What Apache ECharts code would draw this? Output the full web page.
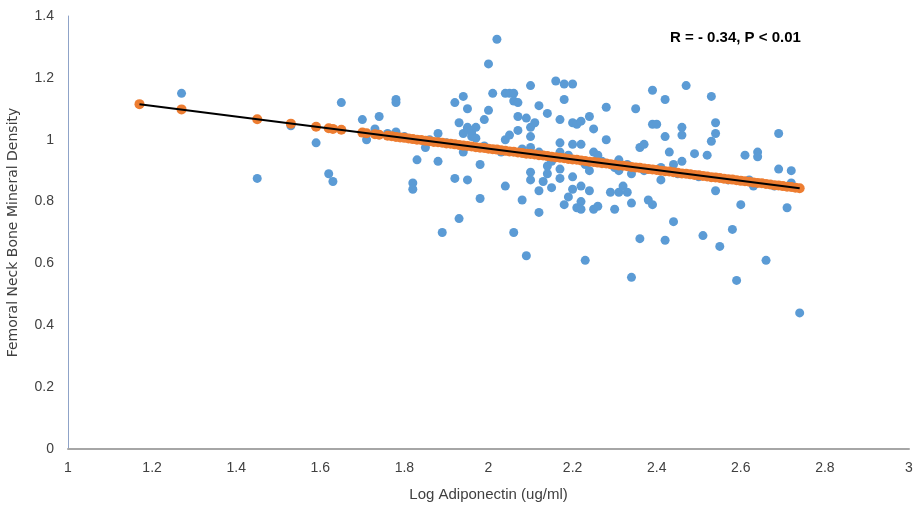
<!DOCTYPE html>
<html>
<head>
<meta charset="utf-8">
<script src="https://cdn.jsdelivr.net/npm/echarts@6/dist/echarts.min.js"></script>
<style>
  html, body { margin: 0; padding: 0; background: #fff; }
  #scatter-chart { width: 914px; height: 505px; }
</style>
</head>
<body>
<div id="scatter-chart"></div>
<script>
// observed values: [log adiponectin, femoral neck BMD]
const observed = [
  [1.27, 1.15], [1.45, 0.875], [1.53, 1.045], [1.59, 0.99], [1.62, 0.89], [1.63, 0.865],
  [1.65, 1.12], [1.70, 1.065], [1.71, 1.0], [1.73, 1.035], [1.74, 1.075], [1.76, 1.02],
  [1.78, 1.13], [1.78, 1.12], [1.78, 1.025], [1.80, 1.01], [1.82, 0.86], [1.82, 0.84],
  [1.83, 0.935], [1.85, 0.975], [1.86, 1.0], [1.88, 1.02], [1.88, 0.93], [1.89, 0.70],
  [1.90, 0.99], [1.92, 1.12], [1.92, 0.875], [1.93, 1.055], [1.93, 0.745], [1.94, 1.14],
  [1.94, 0.96], [1.94, 1.02], [1.95, 1.10], [1.95, 1.035], [1.95, 0.87], [1.95, 1.04],
  [1.96, 1.03], [1.96, 1.01], [1.96, 1.02], [1.97, 1.005], [1.97, 1.04], [1.98, 0.92],
  [1.98, 0.81], [1.99, 1.065], [1.99, 0.98], [2.00, 1.095], [2.00, 1.245], [2.01, 1.15],
  [2.02, 1.325], [2.04, 1.15], [2.05, 1.15], [2.06, 1.15], [2.04, 1.0], [2.04, 0.85],
  [2.03, 0.96], [2.05, 1.015], [2.06, 1.125], [2.06, 0.70], [2.07, 1.12], [2.07, 1.075],
  [2.07, 1.03], [2.08, 0.805], [2.08, 0.97], [2.09, 1.07], [2.09, 0.625], [2.10, 1.175],
  [2.10, 1.04], [2.11, 1.055], [2.10, 1.01], [2.10, 0.975], [2.10, 0.895], [2.10, 0.87],
  [2.12, 1.11], [2.12, 0.835], [2.12, 0.765], [2.12, 0.96], [2.13, 0.865], [2.14, 1.085],
  [2.14, 0.915], [2.14, 0.89], [2.15, 0.845], [2.15, 0.93], [2.16, 1.19], [2.17, 1.065],
  [2.17, 0.99], [2.17, 0.96], [2.17, 0.905], [2.17, 0.875], [2.18, 1.18], [2.18, 1.13],
  [2.18, 0.79], [2.19, 0.815], [2.19, 0.95], [2.20, 1.18], [2.20, 1.055], [2.20, 0.985],
  [2.20, 0.88], [2.20, 0.84], [2.21, 1.05], [2.21, 0.78], [2.22, 1.06], [2.22, 0.985],
  [2.22, 0.80], [2.22, 0.775], [2.22, 0.85], [2.23, 0.61], [2.23, 0.92], [2.24, 1.075],
  [2.24, 0.90], [2.24, 0.835], [2.25, 1.035], [2.25, 0.96], [2.25, 0.775], [2.26, 0.95],
  [2.26, 0.785], [2.27, 0.93], [2.28, 1.105], [2.28, 1.0], [2.29, 0.83], [2.30, 0.775],
  [2.30, 0.91], [2.31, 0.935], [2.31, 0.90], [2.31, 0.83], [2.32, 0.85], [2.33, 0.83],
  [2.33, 0.92], [2.34, 0.89], [2.34, 0.795], [2.34, 0.555], [2.35, 1.10], [2.36, 0.975],
  [2.36, 0.68], [2.37, 0.985], [2.37, 0.90], [2.38, 0.805], [2.39, 1.16], [2.39, 1.05],
  [2.39, 0.79], [2.40, 1.05], [2.41, 0.87], [2.41, 0.91], [2.42, 1.13], [2.42, 1.01],
  [2.42, 0.675], [2.43, 0.96], [2.44, 0.92], [2.44, 0.735], [2.45, 0.89], [2.46, 1.04],
  [2.46, 1.015], [2.46, 0.93], [2.47, 1.175], [2.49, 0.955], [2.50, 0.88], [2.51, 0.69],
  [2.52, 0.95], [2.53, 1.14], [2.53, 0.995], [2.54, 1.055], [2.54, 1.02], [2.54, 0.835],
  [2.55, 0.655], [2.57, 0.87], [2.58, 0.71], [2.59, 0.545], [2.60, 0.79], [2.61, 0.95],
  [2.62, 0.87], [2.63, 0.85], [2.64, 0.96], [2.64, 0.945], [2.66, 0.61], [2.68, 0.85],
  [2.69, 1.02], [2.69, 0.905], [2.71, 0.78], [2.72, 0.90], [2.72, 0.86], [2.74, 0.44]
]

// predicted values on the regression line
const fitX = [
  1.17, 1.27, 1.45, 1.53, 1.59, 1.62, 1.63, 1.65, 1.70, 1.71, 1.73, 1.74, 1.76, 1.77, 1.78,
  1.79, 1.80, 1.81, 1.82, 1.83, 1.84, 1.85, 1.86, 1.87, 1.88, 1.89, 1.90, 1.91, 1.92, 1.93,
  1.94, 1.95, 1.96, 1.97, 1.98, 1.99, 2.00, 2.01, 2.02, 2.03, 2.04, 2.05, 2.06, 2.07, 2.08,
  2.09, 2.10, 2.11, 2.12, 2.13, 2.14, 2.15, 2.16, 2.17, 2.18, 2.19, 2.20, 2.21, 2.22, 2.23,
  2.24, 2.25, 2.26, 2.27, 2.28, 2.29, 2.30, 2.31, 2.32, 2.33, 2.34, 2.35, 2.36, 2.37, 2.38,
  2.39, 2.40, 2.41, 2.42, 2.43, 2.44, 2.45, 2.46, 2.47, 2.48, 2.49, 2.50, 2.51, 2.52, 2.53,
  2.54, 2.55, 2.56, 2.57, 2.58, 2.59, 2.60, 2.61, 2.62, 2.63, 2.64, 2.65, 2.66, 2.67, 2.68,
  2.69, 2.70, 2.71, 2.72, 2.73, 2.74
]
const fitY = [
  1.115, 1.098, 1.066, 1.052, 1.042, 1.037, 1.035, 1.032, 1.023, 1.021, 1.018, 1.016, 1.013, 1.011, 1.009,
  1.007, 1.006, 1.004, 1.002, 1.000, 0.999, 0.997, 0.995, 0.993, 0.992, 0.990, 0.988, 0.987, 0.985, 0.983,
  0.981, 0.980, 0.978, 0.976, 0.974, 0.973, 0.971, 0.969, 0.968, 0.966, 0.964, 0.962, 0.961, 0.959, 0.957,
  0.955, 0.954, 0.952, 0.950, 0.949, 0.947, 0.945, 0.943, 0.942, 0.940, 0.938, 0.936, 0.935, 0.933, 0.931,
  0.929, 0.928, 0.926, 0.924, 0.923, 0.921, 0.919, 0.917, 0.916, 0.914, 0.912, 0.910, 0.909, 0.907, 0.905,
  0.904, 0.902, 0.900, 0.898, 0.897, 0.895, 0.893, 0.891, 0.890, 0.888, 0.886, 0.885, 0.883, 0.881, 0.879,
  0.878, 0.876, 0.874, 0.872, 0.871, 0.869, 0.867, 0.866, 0.864, 0.862, 0.860, 0.859, 0.857, 0.855, 0.853,
  0.852, 0.850, 0.848, 0.847, 0.845, 0.843
]
const trendLine = [[1.17, 1.115], [2.74, 0.843]]

const statText = 'R = - 0.34, P < 0.01'
const xTitle = 'Log Adiponectin (ug/ml)'
const yTitle = 'Femoral Neck Bone Mineral Density'

const chartInstance = echarts.init(document.getElementById('scatter-chart'))

const labelFont = '"Liberation Sans Narrow", "Arial Narrow", "Liberation Sans", sans-serif'

chartInstance.setOption({
  animation: false,
  grid: {
    top: 16,
    left: 68,
    right: 5,
    bottom: 56,
    outerBoundsMode: 'none'
  },
  xAxis: {
    type: 'value',
    min: 1,
    max: 3,
    interval: 0.2,
    name: xTitle,
    nameLocation: 'middle',
    nameGap: 38,
    nameTextStyle: {
      fontFamily: labelFont,
      fontSize: 15,
      color: '#404040'
    },
    splitLine: { show: false },
    axisTick: { show: false },
    axisLine: {
      show: true,
      lineStyle: { color: '#a6a6a6', width: 2 }
    },
    axisLabel: {
      margin: 12,
      fontFamily: labelFont,
      fontSize: 14,
      color: '#404040'
    }
  },
  yAxis: {
    type: 'value',
    min: 0,
    max: 1.4,
    interval: 0.2,
    name: yTitle,
    nameLocation: 'middle',
    nameGap: 48,
    nameTextStyle: {
      fontFamily: '"DejaVu Sans", sans-serif',
      fontSize: 14,
      color: '#404040'
    },
    splitLine: { show: false },
    axisTick: { show: false },
    axisLine: {
      show: true,
      lineStyle: { color: '#8fa3c8', width: 1 }
    },
    axisLabel: {
      margin: 14,
      fontFamily: labelFont,
      fontSize: 14,
      color: '#404040'
    }
  },
  graphic: [
    {
      type: 'text',
      left: 670,
      top: 30,
      style: {
        text: statText,
        fontFamily: '"Liberation Sans", Arial, sans-serif',
        fontWeight: 'bold',
        fontSize: 15,
        fill: '#000'
      }
    }
  ],
  series: [
    {
      name: 'Observed',
      type: 'scatter',
      symbolSize: 9,
      itemStyle: { color: '#5b9bd5', opacity: 1 },
      data: observed,
      z: 2
    },
    {
      name: 'Predicted',
      type: 'scatter',
      symbolSize: 10,
      itemStyle: { color: '#ed7d31', opacity: 1 },
      data: fitX.map((x, i) => [x, fitY[i]]),
      z: 3
    },
    {
      name: 'Linear',
      type: 'line',
      showSymbol: false,
      symbol: 'none',
      lineStyle: { color: '#000', width: 2 },
      data: trendLine,
      z: 4
    }
  ]
})
</script>
</body>
</html>
